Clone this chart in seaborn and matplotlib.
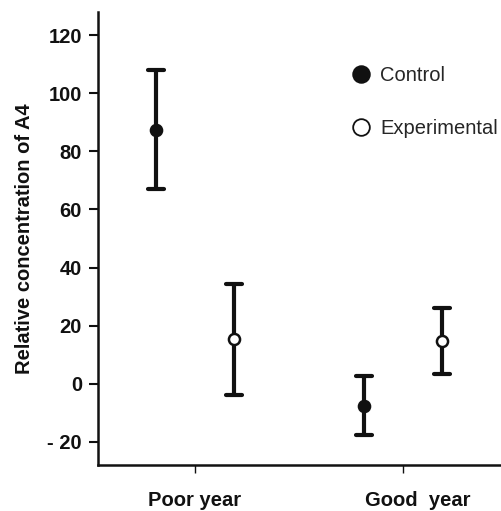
import matplotlib
matplotlib.use("Agg")
import matplotlib.pyplot as plt
import matplotlib.transforms as mtransforms
from matplotlib.collections import LineCollection
import seaborn as sns
import pandas as pd

# Group means and half-widths of the error bars
years = ["Poor year", "Good  year"]
groups = ["Control", "Experimental"]
control_mean = [87.5, -7.6]
control_err = [20.4, 10.2]
experimental_mean = [15.3, 14.8]
experimental_err = [19.2, 11.3]
y_ticks = [-20, 0, 20, 40, 60, 80, 100, 120]
y_tick_labels = ["- 20", "0", "20", "40", "60", "80", "100", "120"]

# Each group is stored as its lower and upper bound so that the
# mean of the pair is the point and the full range is the error bar
rows = []
for grp, means, errs in [("Control", control_mean, control_err),
                         ("Experimental", experimental_mean, experimental_err)]:
    for yr, m, e in zip(years, means, errs):
        rows.append({"year": yr, "group": grp, "value": m - e})
        rows.append({"year": yr, "group": grp, "value": m + e})
df = pd.DataFrame(rows)

sns.set_theme(style="ticks")
plt.rcParams["font.family"] = ["Liberation Sans", "DejaVu Sans"]
plt.rcParams["axes.labelweight"] = "bold"

fig = plt.figure(figsize=(5.01, 5.11), dpi=100)
ax = fig.add_axes([98 / 501, 1 - 465 / 511, 1 - 98 / 501, (465 - 12) / 511])

sns.pointplot(
    data=df, x="year", y="value", hue="group", order=years, hue_order=groups,
    estimator="mean", errorbar=("pi", 100), dodge=0.375,
    palette=["#111111", "#111111"], linestyles="none", markers="o",
    capsize=0.075, markersize=8, err_kws={"linewidth": 3.0},
    ax=ax,
)

marker_lines = [ln for ln in ax.lines if ln.get_marker() == "o"]
for ln in ax.lines:
    if ln.get_marker() != "o":
        ln.set_linewidth(3.0)
for coll in ax.collections:
    if isinstance(coll, LineCollection):
        coll.set_linewidth(3.0)
for i, ln in enumerate(marker_lines):
    ln.set_zorder(5)
    ln.set_markeredgewidth(1.8)
    if i == 1:
        ln.set_markerfacecolor("white")

ax.set_xlim(-0.466, 1.47)
ax.set_ylim(-28, 128)
ax.set_yticks(y_ticks)
ax.set_yticklabels(y_tick_labels)
ax.set_xlabel("")

sns.despine(ax=ax)
for side in ["left", "bottom"]:
    ax.spines[side].set_linewidth(1.8)
    ax.spines[side].set_color("#111111")

ax.tick_params(axis="y", length=6.5, width=1.5, pad=5, labelsize=14.5,
               colors="#111111")
ax.tick_params(axis="x", length=6, width=1.0, pad=13, labelsize=14.5,
               colors="#111111")
for lab in ax.get_yticklabels() + ax.get_xticklabels():
    lab.set_fontweight("bold")

ax.set_ylabel("Relative concentration of A4", fontsize=14.5, labelpad=10,
              fontweight="bold", color="#111111")

# nudge the second category label to the right
shift = mtransforms.ScaledTranslation(15 / 100, 0, fig.dpi_scale_trans)
xl = ax.get_xticklabels()[1]
xl.set_transform(xl.get_transform() + shift)

# legend
handles, labels = ax.get_legend_handles_labels()
if ax.get_legend() is not None:
    ax.get_legend().remove()
leg = ax.legend(handles=handles, labels=labels, loc="upper left",
                bbox_to_anchor=(351 / 501, 1 - 66 / 511),
                bbox_transform=fig.transFigure, frameon=False,
                fontsize=14.5, handlelength=1.0, handletextpad=0.45,
                labelspacing=1.7, borderpad=0, borderaxespad=0)
for h in leg.legend_handles:
    h.set_markersize(12)
    h.set_color("#111111")
    h.set_markeredgewidth(1.3)
leg.legend_handles[1].set_markerfacecolor("white")

fig.savefig("out.png", dpi=100)
